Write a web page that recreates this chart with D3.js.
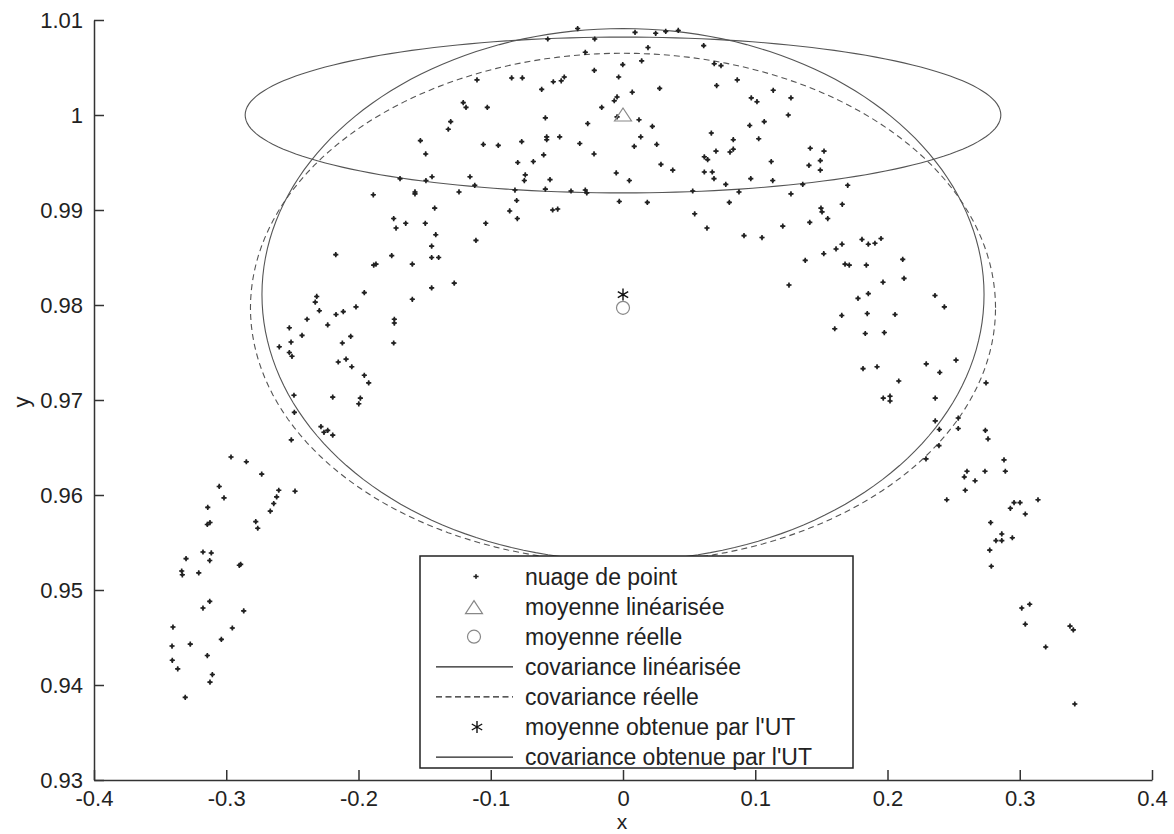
<!DOCTYPE html>
<html>
<head>
<meta charset="utf-8">
<script src="https://cdn.jsdelivr.net/npm/d3@7"></script>
<style>
  body { margin: 0; background: #fff; }
  text { font-family: "Liberation Sans", Arial, sans-serif; }
</style>
</head>
<body>
<svg id="chart"></svg>
<script>
// nuage de points (x, y)
const cloudPoints = [
  [-0.0343,1.0091],[0.0091,1.0087],[0.0247,1.0086],[0.0323,1.0088],[0.0418,1.0089],
  [-0.0569,1.0080],[-0.0214,1.0080],[0.0610,1.0073],[0.0189,1.0071],[-0.0285,1.0066],
  [-0.0002,1.0053],[0.0141,1.0057],[0.0690,1.0054],[0.0741,1.0052],[-0.0217,1.0047],
  [-0.1104,1.0037],[-0.0842,1.0039],[-0.0761,1.0039],[-0.0527,1.0035],[-0.0467,1.0036],
  [-0.0444,1.0040],[-0.0033,1.0040],[0.0864,1.0037],[0.0708,1.0031],[0.0277,1.0028],
  [0.0070,1.0024],[-0.0615,1.0027],[0.1136,1.0026],[0.1270,1.0018],[0.0970,1.0018],
  [0.1013,1.0014],[-0.0045,1.0019],[-0.0066,1.0015],[-0.1208,1.0013],[-0.1187,1.0008],
  [-0.1026,1.0008],[-0.0161,1.0008],[0.1250,1.0000],[-0.0587,0.9997],[-0.0045,0.9998],
  [0.0121,0.9995],[0.1068,0.9993],[0.0958,0.9989],[-0.1303,0.9993],[-0.1321,0.9985],
  [-0.0267,0.9991],[0.0222,0.9988],[0.0668,0.9981],[-0.1532,0.9973],[-0.1492,0.9959],
  [-0.1056,0.9969],[-0.0943,0.9968],[-0.0766,0.9972],[-0.0577,0.9974],[-0.0577,0.9977],
  [-0.0479,0.9977],[-0.0327,0.9970],[0.0134,0.9977],[0.0085,0.9967],[0.0255,0.9969],
  [0.0834,0.9974],[0.1026,0.9975],[-0.0600,0.9958],[-0.0796,0.9950],[-0.0678,0.9951],
  [-0.0219,0.9959],[0.0287,0.9948],[0.0376,0.9942],[0.0615,0.9956],[0.0640,0.9953],
  [0.0703,0.9962],[0.0809,0.9961],[0.0834,0.9964],[0.1121,0.9951],[-0.1686,0.9933],
  [-0.1444,0.9935],[-0.1490,0.9931],[-0.1157,0.9935],[-0.1121,0.9926],[-0.0739,0.9937],
  [-0.0746,0.9931],[-0.0552,0.9932],[-0.0051,0.9939],[0.0048,0.9931],[0.0615,0.9940],
  [0.0675,0.9940],[0.0688,0.9933],[0.0966,0.9933],[0.1132,0.9931],[-0.1573,0.9919],
  [-0.1573,0.9917],[-0.1240,0.9919],[-0.0817,0.9921],[-0.0587,0.9922],[-0.0393,0.9920],
  [-0.0285,0.9921],[-0.0274,0.9918],[0.0527,0.9920],[0.0777,0.9927],[0.0877,0.9919],
  [0.1270,0.9917],[-0.1424,0.9902],[-0.0804,0.9910],[-0.0857,0.9899],[-0.0532,0.9900],
  [-0.0494,0.9901],[-0.0028,0.9909],[0.0184,0.9908],[0.0804,0.9908],[0.0542,0.9896],
  [-0.0799,0.9891],
  [-0.1888,0.9916],[-0.1734,0.9891],[-0.1716,0.9881],[-0.1643,0.9886],[-0.1495,0.9886],
  [-0.1416,0.9874],[-0.1038,0.9886],[-0.1112,0.9868],[-0.1447,0.9862],[-0.2172,0.9853],
  [-0.1749,0.9852],[-0.1447,0.9850],[-0.1394,0.9850],
  [-0.1885,0.9842],[-0.1868,0.9843],[-0.1593,0.9843],[-0.1276,0.9823],[-0.1447,0.9818],
  [-0.1593,0.9806],[-0.1956,0.9813],[-0.2316,0.9809],[-0.2327,0.9803],[-0.2296,0.9794],
  [-0.2170,0.9790],[-0.2115,0.9793],[-0.2019,0.9798],[-0.2389,0.9785],[-0.2233,0.9779],
  [-0.2523,0.9776],[-0.2427,0.9768],[-0.2510,0.9761],[-0.2059,0.9767],[-0.2122,0.9760],
  [-0.1729,0.9785],[-0.1729,0.9781],[-0.1734,0.9760],[-0.2599,0.9756],[-0.2523,0.9750],
  [-0.2503,0.9746],[-0.2153,0.9740],[-0.2094,0.9743],[-0.2051,0.9735],[-0.1956,0.9726],
  [-0.1923,0.9718],[-0.2488,0.9705],[-0.2195,0.9703],[-0.1986,0.9702],[-0.1998,0.9696],
  [-0.2485,0.9687],[-0.2284,0.9672],[-0.2233,0.9668],[-0.2261,0.9666],[-0.2195,0.9663],
  [-0.2508,0.9658],[-0.2964,0.9640],[-0.2848,0.9635],[-0.2732,0.9622],[-0.3053,0.9609],
  [-0.2603,0.9605],[-0.2619,0.9598],[-0.2480,0.9604],[-0.3017,0.9597],
  [-0.2641,0.9591],[-0.2667,0.9583],[-0.3140,0.9587],[-0.3143,0.9569],[-0.3123,0.9571],
  [-0.2777,0.9572],[-0.2762,0.9565],[-0.3176,0.9540],[-0.3113,0.9539],[-0.3304,0.9533],
  [-0.3125,0.9531],[-0.3337,0.9520],[-0.3332,0.9516],[-0.3208,0.9518],[-0.2901,0.9526],
  [-0.2891,0.9527],[-0.3176,0.9481],[-0.3125,0.9488],[-0.2868,0.9478],[-0.3403,0.9461],
  [-0.2954,0.9460],[-0.3037,0.9448],[-0.3410,0.9441],[-0.3272,0.9443],[-0.3143,0.9431],
  [-0.3408,0.9426],[-0.3367,0.9417],[-0.3105,0.9411],[-0.3123,0.9403],[-0.3310,0.9387],
  [0.2361,0.9678],[0.2392,0.9669],[0.2535,0.9681],[0.2535,0.9670],[0.2389,0.9652],
  [0.2291,0.9638],[0.2740,0.9668],[0.2760,0.9659],[0.2881,0.9637],[0.2891,0.9625],
  [0.2601,0.9625],[0.2581,0.9619],[0.2737,0.9625],[0.2662,0.9615],[0.2588,0.9605],
  [0.2448,0.9595],[0.2957,0.9592],[0.3002,0.9592],[0.2929,0.9586],[0.3138,0.9595],
  [0.3042,0.9580],[0.2780,0.9571],[0.2864,0.9559],[0.2820,0.9552],[0.2864,0.9552],
  [0.2944,0.9555],[0.2773,0.9542],[0.2785,0.9525],[0.3015,0.9481],[0.3075,0.9485],
  [0.3042,0.9464],[0.3380,0.9462],[0.3405,0.9458],[0.3196,0.9440],[0.3416,0.9380],
  [0.1416,0.9965],[0.1520,0.9962],[0.1492,0.9952],[0.1406,0.9947],[0.1492,0.9942],
  [0.1359,0.9927],[0.1699,0.9926],[0.1658,0.9906],[0.1497,0.9902],[0.1505,0.9898],
  [0.1548,0.9891],[0.1412,0.9887],[0.1208,0.9883],[0.1807,0.9869],[0.1855,0.9864],
  [0.1905,0.9865],[0.1951,0.9870],[0.1656,0.9864],[0.1611,0.9859],[0.1518,0.9854],
  [0.1378,0.9847],[0.2115,0.9848],[0.1679,0.9843],[0.1711,0.9842],[0.1840,0.9842],
  [0.2125,0.9828],[0.1966,0.9824],[0.1255,0.9821],[0.1855,0.9812],[0.1777,0.9807],
  [0.2359,0.9810],[0.2430,0.9798],[0.1654,0.9789],[0.1847,0.9791],[0.2057,0.9790],
  [0.1601,0.9775],[0.1832,0.9770],[0.1976,0.9771],[0.2518,0.9742],[0.2293,0.9738],
  [0.2395,0.9729],[0.1815,0.9733],[0.1921,0.9735],[0.2085,0.9720],[0.2745,0.9718],
  [0.1968,0.9702],[0.2019,0.9704],[0.2019,0.9699],[0.2361,0.9702],
  [0.0635,0.9881],[0.0915,0.9873],[0.1051,0.9871]
];

// moyennes [x, y]
const meanLinearised = [0, 1.0];
const meanReal = [0, 0.9797];
const meanUT = [0, 0.9811];

// ellipses de covariance [cx, cy, rx, ry]
const covLinearised = [0, 1.0, 0.2857, 0.0082];
const covReal = [0, 0.9797, 0.2817, 0.0268];
const covUT = [0, 0.9811, 0.2730, 0.0280];

// graduations
const xTicks = [-0.4, -0.3, -0.2, -0.1, 0, 0.1, 0.2, 0.3, 0.4];
const xTickLabels = ["-0.4", "-0.3", "-0.2", "-0.1", "0", "0.1", "0.2", "0.3", "0.4"];
const yTicks = [0.93, 0.94, 0.95, 0.96, 0.97, 0.98, 0.99, 1.0, 1.01];
const yTickLabels = ["0.93", "0.94", "0.95", "0.96", "0.97", "0.98", "0.99", "1", "1.01"];

// légende
const legendLabels = [
  "nuage de point",
  "moyenne linéarisée",
  "moyenne réelle",
  "covariance linéarisée",
  "covariance réelle",
  "moyenne obtenue par l'UT",
  "covariance obtenue par l'UT"
];
const legendKinds = ["dot", "triangle", "circle", "line", "dashed", "star", "line"];

const width = 1174;
const height = 834;

const svg = d3.select("#chart").attr("width", width).attr("height", height);
svg.append("rect").attr("width", width).attr("height", height).attr("fill", "#fff");

const x = d3.scaleLinear().domain([-0.4, 0.4]).range([94, 1152]);
const y = d3.scaleLinear().domain([0.93, 1.01]).range([780, 20]);

// ellipse -> liste de points
const ellipsePts = e => d3.range(0, 361, 2).map(a => {
  const t = a * Math.PI / 180;
  return [e[0] + e[2] * Math.cos(t), e[1] + e[3] * Math.sin(t)];
});
const line = d3.line().x(d => x(d[0])).y(d => y(d[1]));

const gEll = svg.append("g").attr("fill", "none");
gEll.append("path").attr("d", line(ellipsePts(covLinearised)))
  .attr("stroke", "#555").attr("stroke-width", 1.1);
gEll.append("path").attr("d", line(ellipsePts(covReal)))
  .attr("stroke", "#555").attr("stroke-width", 1.1).attr("stroke-dasharray", "6,4");
gEll.append("path").attr("d", line(ellipsePts(covUT)))
  .attr("stroke", "#555").attr("stroke-width", 1.1);

// symboles
const dotPath = "M-2.6,0H2.6M0,-2.6V2.6";
const starPath = "M0,-6V6M-5.2,-3L5.2,3M-5.2,3L5.2,-3";
const triPath = "M0,-7L8.5,6H-8.5Z";

const gPts = svg.append("g");
gPts.selectAll("g.pt")
  .data(cloudPoints)
  .join("g")
  .attr("class", "pt")
  .attr("transform", d => `translate(${x(d[0])},${y(d[1])})`)
  .call(g => {
    g.append("path").attr("d", dotPath).attr("stroke", "#222").attr("stroke-width", 1.6);
    g.append("circle").attr("r", 1.6).attr("fill", "#222");
  });

// moyennes
svg.append("path")
  .attr("d", triPath)
  .attr("transform", `translate(${x(meanLinearised[0])},${y(meanLinearised[1])})`)
  .attr("fill", "none").attr("stroke", "#888").attr("stroke-width", 1.2);
svg.append("circle")
  .attr("cx", x(meanReal[0])).attr("cy", y(meanReal[1])).attr("r", 6.5)
  .attr("fill", "none").attr("stroke", "#888").attr("stroke-width", 1.2);
svg.append("path")
  .attr("d", starPath)
  .attr("transform", `translate(${x(meanUT[0])},${y(meanUT[1])})`)
  .attr("fill", "none").attr("stroke", "#111").attr("stroke-width", 1.4);

// axes
const styleAxis = g => {
  g.select(".domain").attr("stroke", "#333").attr("stroke-width", 1.5);
  g.selectAll(".tick line").attr("stroke", "#333").attr("stroke-width", 1.5);
  g.selectAll(".tick text")
    .attr("fill", "#222")
    .style("font-size", "22px")
    .style("font-family", "'Liberation Sans', Arial, sans-serif");
};

svg.append("g")
  .attr("transform", "translate(0,780)")
  .call(d3.axisBottom(x).tickValues(xTicks).tickFormat((d, i) => xTickLabels[i])
    .tickSizeInner(-10).tickSizeOuter(0).tickPadding(10))
  .call(styleAxis);

svg.append("g")
  .attr("transform", "translate(94,0)")
  .call(d3.axisLeft(y).tickValues(yTicks).tickFormat((d, i) => yTickLabels[i])
    .tickSizeInner(-10).tickSizeOuter(0).tickPadding(11))
  .call(styleAxis);

// titres des axes
svg.append("text")
  .attr("x", 622).attr("y", 829)
  .attr("text-anchor", "middle")
  .attr("fill", "#222")
  .style("font-size", "21px")
  .text("x");
svg.append("text")
  .attr("transform", "translate(29,402) rotate(-90)")
  .attr("text-anchor", "middle")
  .attr("fill", "#222")
  .style("font-size", "22px")
  .text("y");

// légende
const legend = svg.append("g");
legend.append("rect")
  .attr("x", 420).attr("y", 556).attr("width", 433).attr("height", 212)
  .attr("fill", "#fff").attr("stroke", "#222").attr("stroke-width", 1.5);

const rowY = i => 576.5 + i * 30.1;
const items = legend.selectAll("g.item")
  .data(legendLabels)
  .join("g")
  .attr("class", "item")
  .attr("transform", (d, i) => `translate(0,${rowY(i)})`);

items.append("text")
  .attr("x", 525).attr("dy", "0.35em")
  .attr("fill", "#222")
  .style("font-size", "23px")
  .text(d => d);

items.each(function (d, i) {
  const g = d3.select(this);
  const kind = legendKinds[i];
  if (kind === "dot") {
    g.append("path").attr("d", dotPath).attr("transform", "translate(476,0)")
      .attr("stroke", "#222").attr("stroke-width", 1.3);
    g.append("circle").attr("cx", 476).attr("r", 1.2).attr("fill", "#222");
  } else if (kind === "triangle") {
    g.append("path").attr("d", triPath).attr("transform", "translate(474,1)")
      .attr("fill", "none").attr("stroke", "#888").attr("stroke-width", 1.2);
  } else if (kind === "circle") {
    g.append("circle").attr("cx", 474).attr("r", 6.5)
      .attr("fill", "none").attr("stroke", "#888").attr("stroke-width", 1.2);
  } else if (kind === "star") {
    g.append("path").attr("d", starPath).attr("transform", "translate(477,0)")
      .attr("fill", "none").attr("stroke", "#111").attr("stroke-width", 1.4);
  } else {
    g.append("line").attr("x1", 436).attr("x2", 513)
      .attr("stroke", "#222").attr("stroke-width", 1.3)
      .attr("stroke-dasharray", kind === "dashed" ? "6,3.5" : null);
  }
});
</script>
</body>
</html>
